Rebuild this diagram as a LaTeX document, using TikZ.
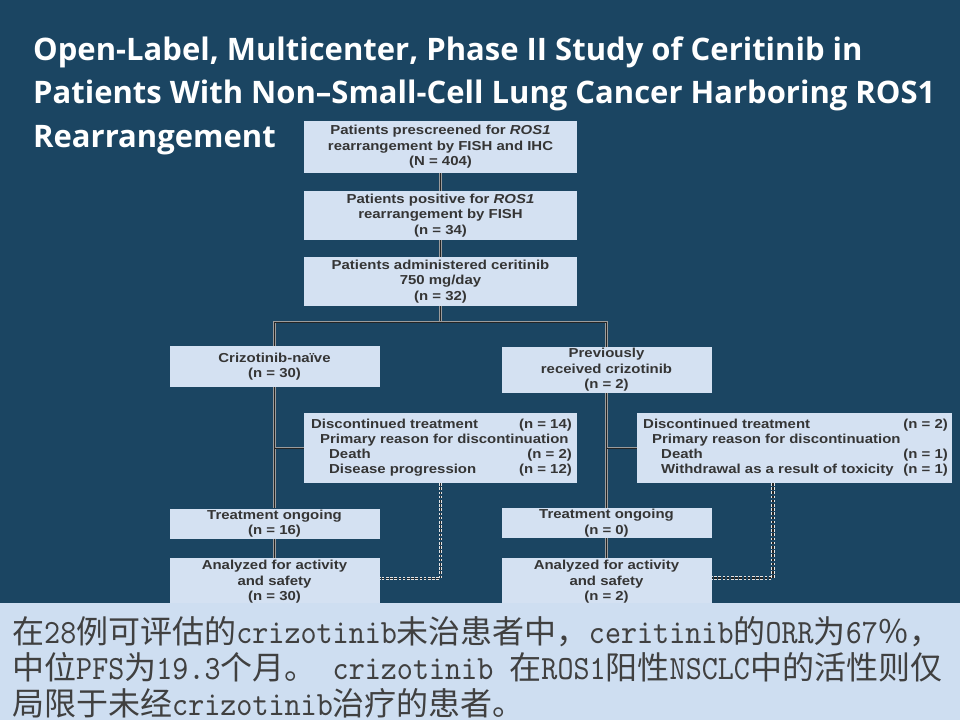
\documentclass[tikz,border=0pt]{standalone}
\usepackage{fontspec}
\newfontfamily\titlefont{Open Sans}
\newfontfamily\flowfont[FakeStretch=1.15]{Liberation Sans}
\newfontfamily\cjk{Noto Sans CJK SC}
\newfontfamily\latmono[FakeStretch=0.9]{lmmono10-regular.otf}
\newcommand\lm[1]{{\latmono\fontsize{34}{36}\selectfont#1}}
\definecolor{bgc}{HTML}{1B4562}
\definecolor{boxc}{HTML}{D4E1F2}
\definecolor{panelc}{HTML}{CEDEF1}
\definecolor{flowtext}{HTML}{353535}
\definecolor{bottomtext}{HTML}{404040}
\definecolor{lineouter}{HTML}{9C9C9C}
\definecolor{lineinner}{HTML}{242424}
\tikzset{
  flowbox/.style={fill=boxc, draw=none, inner sep=0pt, align=center,
    font=\flowfont\bfseries\fontsize{13}{15.5}\selectfont, text=flowtext},
  ftxt/.style={inner sep=0pt, font=\flowfont\bfseries\fontsize{13}{15}\selectfont, text=flowtext},
  ttl/.style={inner sep=0pt, text=white, font=\titlefont\bfseries\fontsize{31}{43}\selectfont},
  btxt/.style={inner sep=0pt, text=bottomtext, font=\cjk\fontsize{32}{36}\selectfont},
  conn/.style={draw=lineouter, double=lineinner, double distance=0.8pt, line width=0.9pt},
  dotconn/.style={draw=white!90!black, double=lineinner, double distance=1.2pt, line width=1pt, dash pattern=on 2.6pt off 1.6pt}
}
\begin{document}
\begin{tikzpicture}[x=1pt,y=-1pt]
\fill[bgc] (0,0) rectangle (960,720);
\useasboundingbox (0,0) rectangle (960,720);

% title
\node[ttl, anchor=base west] (t1) at (33,60) {Open-Label, Multicenter, Phase II Study of Ceritinib in};
\node[ttl, anchor=base west] (t2) at (33,103.5) {Patients With Non–Small-Cell Lung Cancer Harboring ROS1};
\node[ttl, anchor=base west] (t3) at (33,147) {Rearrangement};

% boxes
\node[flowbox, minimum width=273pt, minimum height=52pt] (b1) at (440.5,147)
  {Patients prescreened for \textit{ROS1}\\rearrangement by FISH and IHC\\(N = 404)};
\node[flowbox, minimum width=273pt, minimum height=49pt] (b2) at (440.5,215.5)
  {Patients positive for \textit{ROS1}\\rearrangement by FISH\\(n = 34)};
\node[flowbox, minimum width=273pt, minimum height=49pt] (b3) at (440.5,281.5)
  {Patients administered ceritinib\\750 mg/day\\(n = 32)};
\node[flowbox, minimum width=210pt, minimum height=41pt] (naive) at (274.5,366.5)
  {Crizotinib-na\"ive\\(n = 30)};
\node[flowbox, minimum width=210pt, minimum height=46pt] (prev) at (606.5,370)
  {Previously\\received crizotinib\\(n = 2)};
\node[flowbox, minimum width=273pt, minimum height=70pt] (discL) at (440.5,448) {};
\node[flowbox, minimum width=315pt, minimum height=70pt] (discR) at (794.5,448) {};
\node[flowbox, minimum width=210pt, minimum height=30pt] (ongL) at (274.5,523.5)
  {Treatment ongoing\\(n = 16)};
\node[flowbox, minimum width=210pt, minimum height=30pt] (ongR) at (606.5,523)
  {Treatment ongoing\\(n = 0)};
\node[flowbox, minimum width=210pt, minimum height=48pt] (anaL) at (274.5,582)
  {Analyzed for activity\\and safety\\(n = 30)};
\node[flowbox, minimum width=210pt, minimum height=48pt] (anaR) at (606.5,582)
  {Analyzed for activity\\and safety\\(n = 2)};

% left discontinued text
\node[ftxt, anchor=base west] (dl1) at (311,428.5) {Discontinued treatment};
\node[ftxt, anchor=base east] (dl1n) at (572,428.5) {(n = 14)};
\node[ftxt, anchor=base west] (dl2) at (320,443.5) {Primary reason for discontinuation};
\node[ftxt, anchor=base west] (dl3) at (329,458.5) {Death};
\node[ftxt, anchor=base east] (dl3n) at (572,458.5) {(n = 2)};
\node[ftxt, anchor=base west] (dl4) at (329,473.5) {Disease progression};
\node[ftxt, anchor=base east] (dl4n) at (572,473.5) {(n = 12)};

% right discontinued text
\node[ftxt, anchor=base west] (dr1) at (643,428.5) {Discontinued treatment};
\node[ftxt, anchor=base east] (dr1n) at (948,428.5) {(n = 2)};
\node[ftxt, anchor=base west] (dr2) at (652,443.5) {Primary reason for discontinuation};
\node[ftxt, anchor=base west] (dr3) at (661,458.5) {Death};
\node[ftxt, anchor=base east] (dr3n) at (948,458.5) {(n = 1)};
\node[ftxt, anchor=base west] (dr4) at (661,473.5) {Withdrawal as a result of toxicity};
\node[ftxt, anchor=base east] (dr4n) at (948,473.5) {(n = 1)};

% connectors
\coordinate (split) at (440.5,322);
\draw[conn] (b1.south) -- (b2.north);
\draw[conn] (b2.south) -- (b3.north);
\draw[conn] (b3.south) -- (split);
\draw[conn] (naive.north) -- (naive.north |- split) -- (prev.north |- split) -- (prev.north);
\draw[conn] (naive.south) -- (ongL.north);
\draw[conn] (naive.south |- discL.west) -- (discL.west);
\draw[conn] (prev.south) -- (ongR.north);
\draw[conn] (prev.south |- discR.west) -- (discR.west);
\draw[conn] (ongL.south) -- (anaL.north);
\draw[conn] (ongR.south) -- (anaR.north);

\path (discL.south) ++(0,95) coordinate (jL);
\draw[dotconn] (discL.south) -- (jL) -- (jL -| anaL.east);
\coordinate (dR) at (773,483);
\path (dR) ++(0,95) coordinate (jR);
\draw[dotconn] (dR) -- (jR) -- (jR -| anaR.east);

% bottom panel
\fill[panelc] (0,603) rectangle (960,720);
\node[btxt, anchor=base west] (l1) at (12,643)
  {在\lm{28}例可评估的\lm{crizotinib}未治患者中，\lm{ceritinib}的\lm{ORR}为\lm{67}％，};
\node[btxt, anchor=base west] (l2) at (12,679)
  {中位\lm{PFS}为\lm{19.3}个月。\lm{\ crizotinib\ }在\lm{ROS1}阳性\lm{NSCLC}中的活性则仅};
\node[btxt, anchor=base west] (l3) at (12,715)
  {局限于未经\lm{crizotinib}治疗的患者。};
\end{tikzpicture}
\end{document}
